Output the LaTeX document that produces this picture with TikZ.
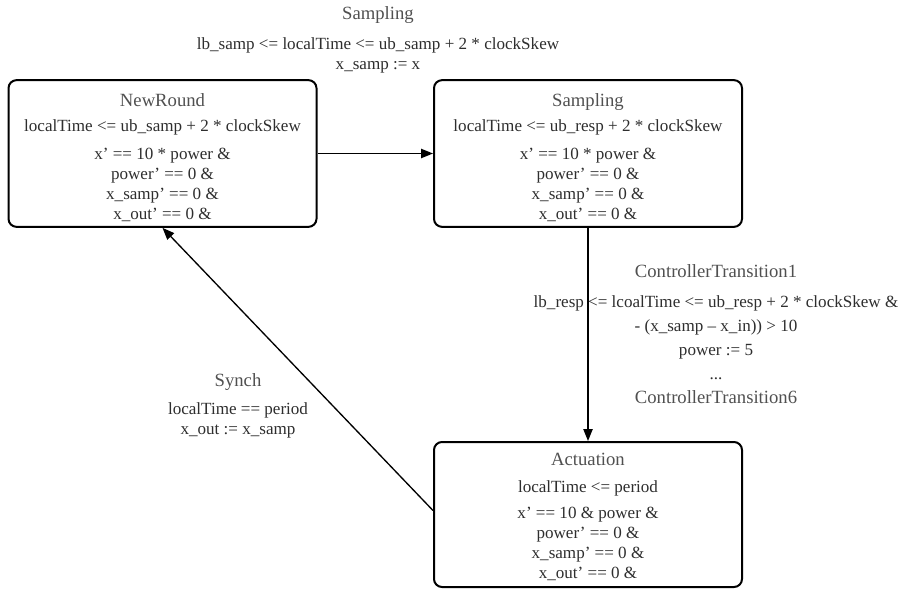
\documentclass[tikz,border=0pt]{standalone}
\usepackage{fontspec}
\setmainfont{Liberation Serif}
\usetikzlibrary{arrows.meta}
\definecolor{bodygray}{HTML}{2E2E2E}
\definecolor{titlegray}{HTML}{505050}
\newcommand{\statetitle}[1]{{\color{titlegray}\fontsize{14}{16}\selectfont #1}}

\begin{document}
\begin{tikzpicture}[x=0.75pt, y=-0.75pt,
	state/.style = {rectangle, draw=black, rounded corners=6pt, line width=1.5pt, minimum width=231pt, minimum height=110pt, align=center, inner sep=0pt, text=bodygray, font=\fontsize{12.8}{15}\selectfont},
	guard/.style = {align=center, inner sep=0pt, text=bodygray, font=\fontsize{12.8}{15}\selectfont},
	trans/.style = {-{Triangle[length=9pt,width=7pt]}, line width=1pt},
]
\useasboundingbox (0,0) rectangle (905,588);

% locations
\node[state] (newround) at (162.5,153.5) {\rule{0pt}{15.5pt}\statetitle{NewRound}\\[4pt] localTime <= ub\_samp + 2 * clockSkew\\[5.5pt] x’ == 10 * power \&\\ power’ == 0 \&\\ x\_samp’ == 0 \&\\ x\_out’ == 0 \&};
\node[state] (sampling) at (588,153.5) {\rule{0pt}{15.5pt}\statetitle{Sampling}\\[4pt] localTime <= ub\_resp + 2 * clockSkew\\[5.5pt] x’ == 10 * power \&\\ power’ == 0 \&\\ x\_samp’ == 0 \&\\ x\_out’ == 0 \&};
\node[state, minimum height=108.75pt] (actuation) at (588,514.5) {\rule{0pt}{13pt}\statetitle{Actuation}\\[5pt] localTime <= period\\[5pt] x’ == 10 \& power \&\\ power’ == 0 \&\\ x\_samp’ == 0 \&\\ x\_out’ == 0 \&};

% transition labels
\node[guard] (samplinglabel) at (378,40) {\statetitle{Sampling}\\[8pt] lb\_samp <= localTime <= ub\_samp + 2 * clockSkew\\ x\_samp := x};
\node[guard, font=\fontsize{12.8}{18}\selectfont] (ctrllabel) at (716,334) {\statetitle{ControllerTransition1}\\[4pt] lb\_resp <= lcoalTime <= ub\_resp + 2 * clockSkew \&\\ - (x\_samp – x\_in)) > 10\\ power := 5\\ ...\\ \statetitle{ControllerTransition6}};
\node[guard] (synchlabel) at (238,406) {\statetitle{Synch}\\[6pt] localTime == period\\ x\_out := x\_samp};

% transitions
\draw[trans] (newround) -- (sampling);
\draw[trans] (sampling) -- (actuation);
\draw[trans] ([yshift=3pt]actuation.west) -- (newround.south);
\end{tikzpicture}
\end{document}
